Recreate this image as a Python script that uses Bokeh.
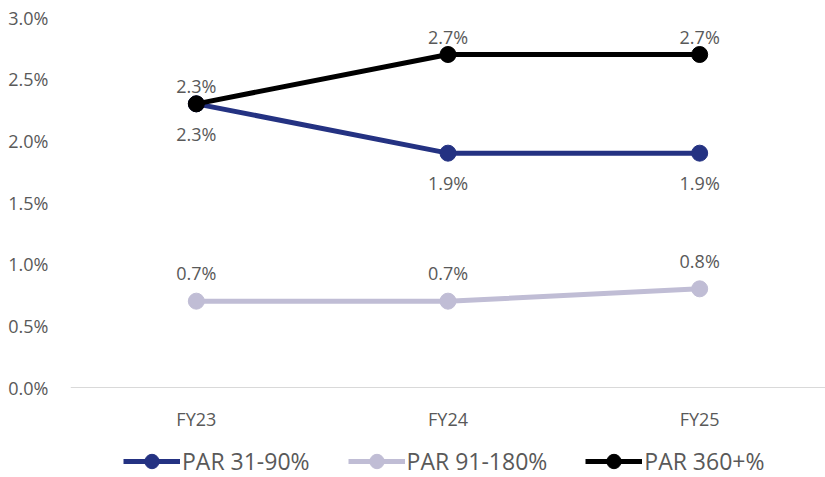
from bokeh.plotting import figure
from bokeh.models import ColumnDataSource, Legend, LegendItem, FactorRange, Range1d, CategoricalAxis
from bokeh.core.properties import value
from bokeh.embed import file_html
from bokeh.resources import INLINE

years = ["FY23", "FY24", "FY25"]
par_31_90 = [2.3, 1.9, 1.9]
par_91_180 = [0.7, 0.7, 0.8]
par_360 = [2.3, 2.7, 2.7]
y_ticks = [0.0, 0.5, 1.0, 1.5, 2.0, 2.5, 3.0]

FONT = "Open Sans"
TXT = "#595959"

# frame extends below the zero line to host the legend; 370px span for 0..3%
FRAME_H = 460
y_start = -(FRAME_H - 370) / 370 * 3.0

p = figure(x_range=FactorRange(*years), y_range=Range1d(y_start, 3.0),
           frame_width=755, frame_height=FRAME_H, output_backend="svg", toolbar_location=None,
           min_border_left=70, min_border_right=0, min_border_top=17, min_border_bottom=0,
           x_axis_location=None)
p.x_range.range_padding = 0
p.outline_line_color = None
p.xgrid.grid_line_color = None
p.ygrid.grid_line_color = None

xaxis = CategoricalAxis(fixed_location=0)
p.add_layout(xaxis, "below")
xaxis.axis_line_color = "#d9d9d9"
xaxis.major_tick_line_color = None
xaxis.minor_tick_line_color = None
xaxis.major_label_text_font = FONT
xaxis.major_label_text_font_size = "18px"
xaxis.major_label_text_color = TXT
xaxis.major_label_standoff = 13

p.yaxis.ticker = y_ticks
p.yaxis.major_label_overrides = {t: f"{t:.1f}%" for t in y_ticks}
p.yaxis.axis_line_color = None
p.yaxis.major_tick_line_color = None
p.yaxis.minor_tick_line_color = None
p.yaxis.major_label_text_font = FONT
p.yaxis.major_label_text_font_size = "18px"
p.yaxis.major_label_text_color = TXT
p.yaxis.major_label_standoff = 16

series = [
    ("PAR 31-90%", par_31_90, "#243282", 30),
    ("PAR 91-180%", par_91_180, "#c0bdd5", -28),
    ("PAR 360+%", par_360, "#000000", -18),
]

items = []
for name, vals, color, off in series:
    src = ColumnDataSource(dict(x=years, y=vals, lab=[f"{v:.1f}%" for v in vals]))
    l = p.line("x", "y", source=src, line_color=color, line_width=5)
    s = p.scatter("x", "y", source=src, size=16, fill_color=color, line_color=color)
    items.append(LegendItem(label=name, renderers=[l, s]))
    p.text("x", "y", text="lab", source=src, y_offset=off, text_align="center",
           text_baseline="middle", text_font=value(FONT), text_font_size="18px",
           text_color=TXT)

legend = Legend(items=items, orientation="horizontal", location=(53, -2),
                label_text_font=FONT, label_text_font_size="23px", label_text_color=TXT,
                glyph_width=57, glyph_height=36, spacing=38, label_standoff=2,
                border_line_color=None, background_fill_alpha=0, margin=0, padding=0)
p.add_layout(legend, "center")

open("out.html", "w").write(file_html(p, INLINE))
